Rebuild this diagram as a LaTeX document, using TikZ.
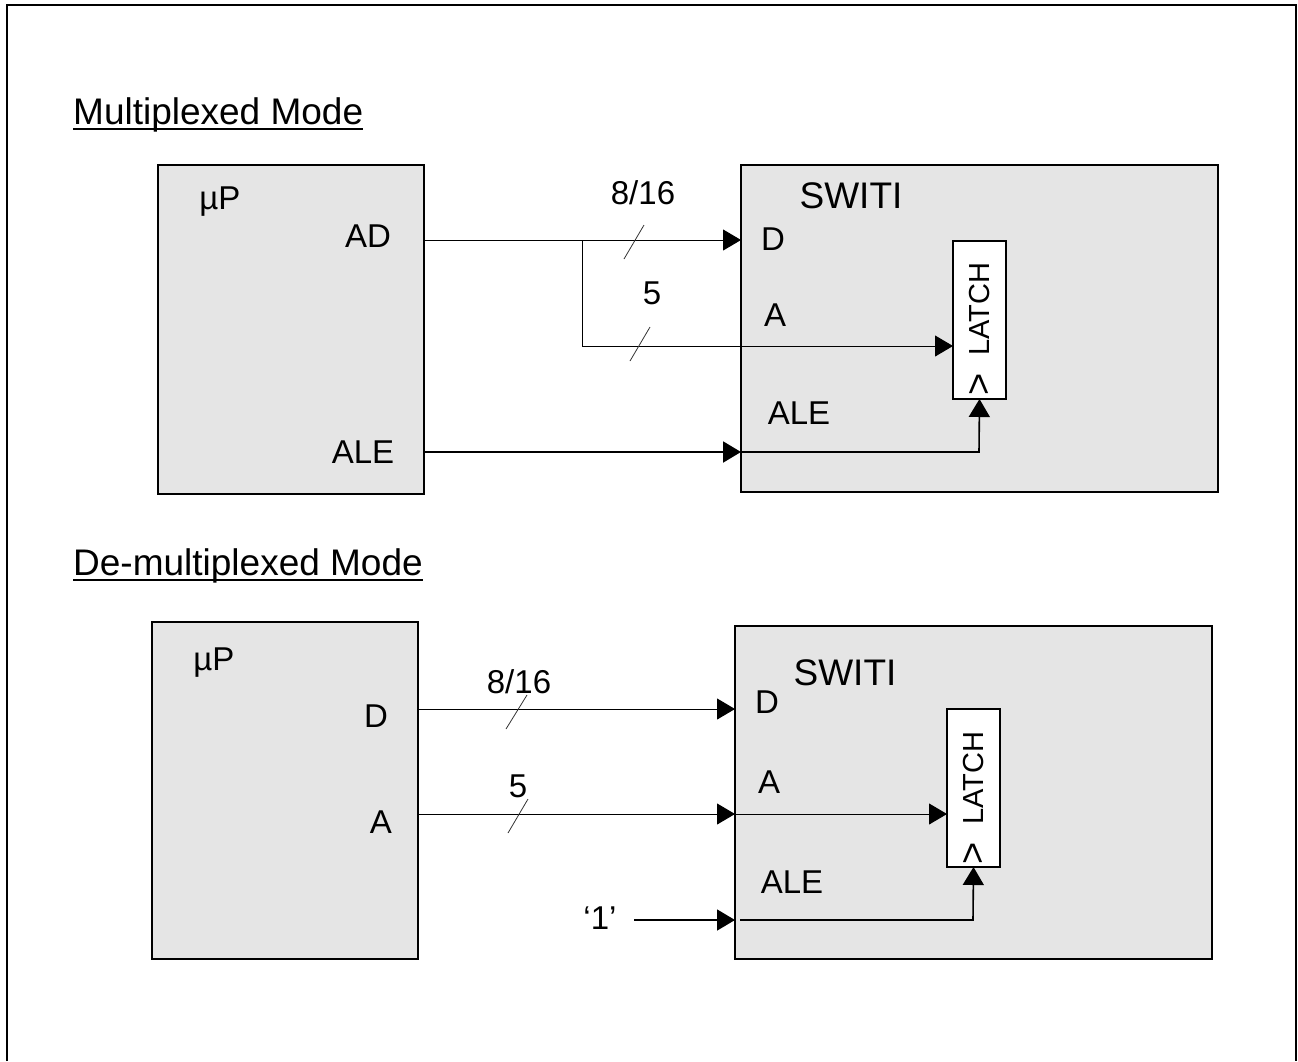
\documentclass[tikz,border=0pt]{standalone}
\usepackage{fontspec}
\setmainfont{Liberation Sans}
\usetikzlibrary{arrows.meta}
\definecolor{boxgray}{HTML}{E5E5E5}
\begin{document}
\begin{tikzpicture}[x=1pt,y=-1pt,
  box/.style={draw=black,fill=boxgray,line width=2pt,rectangle,inner sep=0pt,outer sep=0pt,anchor=north west},
  latchbox/.style={draw=black,fill=white,line width=2pt,rectangle,inner sep=0pt,outer sep=0pt,anchor=north west},
  lbl/.style={inner sep=0pt,font=\fontsize{33}{40}\selectfont},
  ttl/.style={inner sep=0pt,font=\fontsize{37}{44}\selectfont},
  latchtxt/.style={inner sep=0pt,rotate=90,font=\fontsize{29}{35}\selectfont},
  clktxt/.style={inner sep=0pt,rotate=90,font=\fontsize{38}{44}\selectfont},
  wire/.style={line width=1pt},
  tip/.style={-{Triangle[length=18pt,width=21pt]}},
  slashmark/.style={line width=0.8pt,draw=black!80},
]
\useasboundingbox (0,0) rectangle (1298,1061);
% frame
\draw[line width=2pt] (7,1061) -- (7,5) -- (1296,5) -- (1296,1061);

% ===== Multiplexed Mode =====
\node[ttl,anchor=base west] (t1) at (73,124) {Multiplexed Mode};
\draw[line width=2pt] ([yshift=-5pt]t1.base west) -- ([yshift=-5pt]t1.base east);

\node[box,minimum width=266pt,minimum height=329pt] (up1) at (158,165) {};
\node[box,minimum width=477pt,minimum height=327pt] (sw1) at (741,165) {};
\node[latchbox,minimum width=53pt,minimum height=158pt] (la1) at (953,241) {};

\node[lbl] (up1l) at (220,202) {µP};
\node[lbl] (ad1) at (368,236) {AD};
\node[lbl] (ale1) at (363,452) {ALE};
\node[ttl] (sw1l) at (851,196) {SWITI};
\node[lbl] (d1) at (773,239) {D};
\node[lbl] (a1) at (775,315) {A};
\node[lbl] (ale1b) at (799,413) {ALE};
\node[latchtxt] (lt1) at (980,309) {LATCH};
\node[clktxt] (gt1) at (980,384) {>};
\node[lbl] (n1a) at (643,193) {8/16};
\node[lbl] (n1b) at (652,293) {5};

\coordinate (br1) at (582,240);
\draw[wire,tip] (up1.east |- br1) -- (sw1.west |- br1);
\draw[wire,tip] (br1) -- (582,346) -- (la1.west |- 0,346);
\draw[line width=2pt,tip] (up1.east |- 0,452) -- (sw1.west |- 0,452);
\draw[line width=1.6pt,tip] (sw1.west |- 0,452) -- (979,452) -- (la1.south);
\draw[slashmark] (644,225) -- (624,259);
\draw[slashmark] (650,327) -- (630,361);

% ===== De-multiplexed Mode =====
\node[ttl,anchor=base west] (t2) at (73,575) {De-multiplexed Mode};
\draw[line width=2pt] ([yshift=-5pt]t2.base west) -- ([yshift=-5pt]t2.base east);

\node[box,minimum width=266pt,minimum height=337pt] (up2) at (152,622) {};
\node[box,minimum width=477pt,minimum height=333pt] (sw2) at (735,626) {};
\node[latchbox,minimum width=53pt,minimum height=158pt] (la2) at (947,709) {};

\node[lbl] (up2l) at (214,663) {µP};
\node[lbl] (d2p) at (376,716) {D};
\node[lbl] (a2p) at (381,822) {A};
\node[ttl] (sw2l) at (845,673) {SWITI};
\node[lbl] (d2) at (767,702) {D};
\node[lbl] (a2) at (769,782) {A};
\node[lbl] (ale2b) at (792,882) {ALE};
\node[latchtxt] (lt2) at (974,778) {LATCH};
\node[clktxt] (gt2) at (974,853) {>};
\node[lbl] (n2a) at (519,682) {8/16};
\node[lbl] (n2b) at (518,786) {5};
\node[lbl] (one) at (600,918) {‘1’};

\draw[wire,tip] (up2.east |- 0,709) -- (sw2.west |- 0,709);
\draw[wire,tip] (up2.east |- 0,814) -- (sw2.west |- 0,814);
\draw[wire,tip] (sw2.west |- 0,814) -- (la2.west |- 0,814);
\coordinate (onestart) at (634,920);
\draw[line width=1.6pt,tip] (onestart) -- (sw2.west |- onestart);
\draw[line width=1.6pt,tip] (740,920) -- (973,920) -- (la2.south);
\draw[slashmark] (527,695) -- (506,729);
\draw[slashmark] (528,799) -- (508,833);
\end{tikzpicture}
\end{document}
